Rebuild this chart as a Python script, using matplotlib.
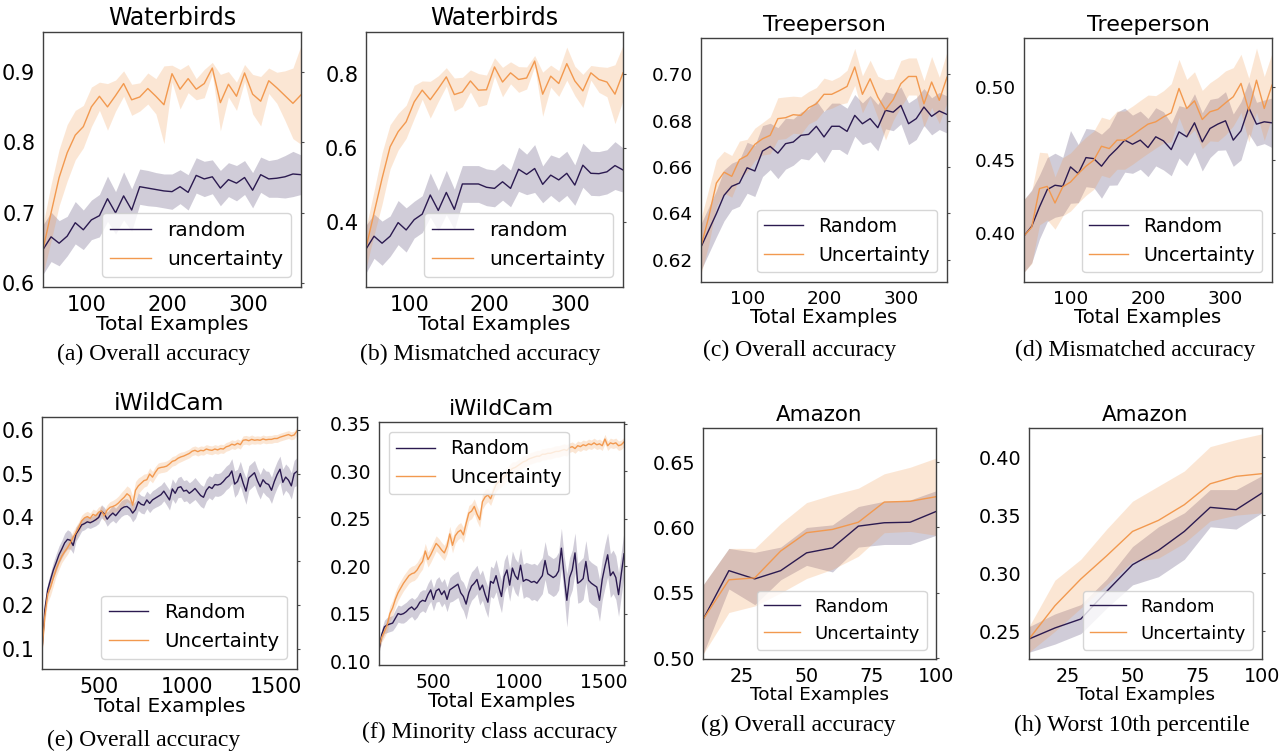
import matplotlib
matplotlib.use("Agg")
import matplotlib.pyplot as plt
import numpy as np

# ---- x grids ----
wb_x = np.arange(46, 367, 10)      # Waterbirds
tp_x = np.arange(40, 361, 10)      # Treeperson
iw_x = np.arange(180, 1621, 16)    # iWildCam
amz_x = [10, 20, 30, 40, 50, 60, 70, 80, 90, 100]

# ---- (a) Waterbirds overall ----
a_rand = [0.648, 0.666, 0.657, 0.667, 0.686, 0.676, 0.69, 0.696, 0.72, 0.70,
          0.724, 0.704, 0.737, 0.735, 0.733, 0.731, 0.730, 0.737, 0.729, 0.753,
          0.748, 0.751, 0.735, 0.747, 0.742, 0.75, 0.732, 0.754, 0.748, 0.749,
          0.751, 0.755, 0.754]
a_rand_sd = [0.035, 0.035, 0.032, 0.028, 0.03, 0.028, 0.028, 0.03, 0.032, 0.03,
             0.034, 0.03, 0.025, 0.025, 0.024, 0.024, 0.025, 0.024, 0.025, 0.025,
             0.025, 0.024, 0.025, 0.024, 0.025, 0.024, 0.025, 0.025, 0.026, 0.027,
             0.03, 0.032, 0.028]
a_unc = [0.648, 0.70, 0.75, 0.785, 0.81, 0.822, 0.85, 0.865, 0.85, 0.866,
         0.883, 0.86, 0.864, 0.876, 0.865, 0.853, 0.897, 0.875, 0.89, 0.875,
         0.883, 0.905, 0.856, 0.882, 0.865, 0.898, 0.868, 0.858, 0.887, 0.877,
         0.866, 0.855, 0.867]
a_unc_sd = [0.035, 0.04, 0.04, 0.04, 0.035, 0.03, 0.028, 0.02, 0.033, 0.022,
            0.018, 0.022, 0.02, 0.022, 0.025, 0.055, 0.012, 0.028, 0.02, 0.015,
            0.02, 0.008, 0.04, 0.018, 0.02, 0.012, 0.028, 0.035, 0.018, 0.022,
            0.035, 0.05, 0.07]

# ---- (b) Waterbirds mismatched ----
b_rand = [0.325, 0.36, 0.341, 0.36, 0.397, 0.377, 0.405, 0.42, 0.472, 0.43,
          0.479, 0.433, 0.502, 0.502, 0.502, 0.493, 0.49, 0.508, 0.49, 0.542,
          0.528, 0.544, 0.501, 0.526, 0.513, 0.531, 0.499, 0.553, 0.531, 0.530,
          0.535, 0.552, 0.54]
b_rand_sd = [0.065, 0.06, 0.06, 0.055, 0.06, 0.06, 0.05, 0.05, 0.06, 0.055,
             0.06, 0.055, 0.05, 0.05, 0.05, 0.05, 0.05, 0.05, 0.05, 0.06,
             0.055, 0.065, 0.05, 0.055, 0.06, 0.06, 0.055, 0.06, 0.06, 0.06,
             0.06, 0.065, 0.06]
b_unc = [0.328, 0.423, 0.517, 0.603, 0.644, 0.671, 0.725, 0.757, 0.731, 0.761,
         0.793, 0.745, 0.752, 0.782, 0.757, 0.758, 0.82, 0.779, 0.804, 0.786,
         0.79, 0.836, 0.746, 0.795, 0.775, 0.829, 0.782, 0.755, 0.804, 0.786,
         0.779, 0.746, 0.804]
b_unc_sd = [0.055, 0.06, 0.07, 0.06, 0.05, 0.045, 0.045, 0.025, 0.05, 0.035,
            0.025, 0.045, 0.04, 0.03, 0.045, 0.04, 0.025, 0.04, 0.03, 0.035,
            0.03, 0.015, 0.06, 0.03, 0.035, 0.045, 0.04, 0.045, 0.02, 0.035,
            0.04, 0.08, 0.075]

# ---- (c) Treeperson overall ----
c_rand = [0.6255, 0.6327, 0.6399, 0.6478, 0.6517, 0.6531, 0.6597, 0.6583, 0.6669, 0.6689,
          0.666, 0.6701, 0.6708, 0.6737, 0.6741, 0.6776, 0.673, 0.6776, 0.6776, 0.6754,
          0.6823, 0.6787, 0.6809, 0.677, 0.6845, 0.6837, 0.6866, 0.6787, 0.6809, 0.6859,
          0.6819, 0.6842, 0.6827]
c_rand_sd = [0.01, 0.01, 0.01, 0.011, 0.01, 0.01, 0.011, 0.011, 0.011, 0.01,
             0.011, 0.011, 0.01, 0.01, 0.011, 0.011, 0.011, 0.01, 0.01, 0.01,
             0.009, 0.009, 0.01, 0.01, 0.008, 0.008, 0.008, 0.009, 0.009, 0.008,
             0.008, 0.008, 0.008]
c_unc = [0.6258, 0.6384, 0.6531, 0.6578, 0.656, 0.6632, 0.665, 0.6698, 0.6722, 0.6737,
         0.6809, 0.6813, 0.6826, 0.6823, 0.6856, 0.6873, 0.6914, 0.6914, 0.693, 0.6948,
         0.7032, 0.6914, 0.6981, 0.6902, 0.6847, 0.6891, 0.696, 0.6991, 0.6991, 0.6873,
         0.6967, 0.6888, 0.6988]
c_unc_sd = [0.012, 0.012, 0.01, 0.009, 0.009, 0.008, 0.007, 0.007, 0.007, 0.008,
            0.009, 0.009, 0.008, 0.008, 0.007, 0.007, 0.007, 0.006, 0.006, 0.007,
            0.008, 0.008, 0.008, 0.009, 0.013, 0.009, 0.01, 0.008, 0.008, 0.01,
            0.011, 0.01, 0.011]

# ---- (d) Treeperson mismatched ----
d_rand = [0.398, 0.4046, 0.4179, 0.4298, 0.4328, 0.432, 0.4454, 0.4408, 0.4518, 0.4511,
          0.4459, 0.4528, 0.458, 0.4638, 0.461, 0.4638, 0.4587, 0.4661, 0.4633, 0.4573,
          0.4695, 0.4661, 0.4757, 0.4626, 0.4718, 0.4748, 0.4771, 0.4638, 0.4702, 0.4862,
          0.4748, 0.4764, 0.4757]
d_rand_sd = [0.025, 0.025, 0.022, 0.022, 0.022, 0.02, 0.025, 0.02, 0.02, 0.02,
             0.022, 0.02, 0.025, 0.022, 0.02, 0.02, 0.02, 0.02, 0.02, 0.018,
             0.018, 0.02, 0.02, 0.02, 0.02, 0.018, 0.02, 0.018, 0.02, 0.018,
             0.015, 0.015, 0.017]
d_unc = [0.398, 0.404, 0.4305, 0.432, 0.4206, 0.4317, 0.435, 0.4408, 0.4459, 0.45,
         0.4596, 0.458, 0.4638, 0.4638, 0.4672, 0.4711, 0.4748, 0.4764, 0.4798, 0.4826,
         0.4993, 0.4856, 0.4908, 0.478, 0.4833, 0.4849, 0.4894, 0.4936, 0.5028, 0.4844,
         0.505, 0.4856, 0.5016]
d_unc_sd = [0.025, 0.025, 0.025, 0.023, 0.018, 0.02, 0.02, 0.02, 0.02, 0.02,
            0.02, 0.02, 0.02, 0.02, 0.02, 0.02, 0.02, 0.018, 0.018, 0.02,
            0.02, 0.02, 0.02, 0.02, 0.02, 0.022, 0.022, 0.02, 0.02, 0.022,
            0.022, 0.022, 0.022]

# ---- (e) iWildCam overall ----
e_rand = [0.098, 0.190, 0.235, 0.258, 0.280, 0.297, 0.315, 0.328, 0.342, 0.350,
          0.348, 0.336, 0.362, 0.372, 0.383, 0.386, 0.390, 0.388, 0.391, 0.395,
          0.400, 0.414, 0.408, 0.396, 0.404, 0.410, 0.404, 0.412, 0.420, 0.424,
          0.425, 0.420, 0.410, 0.418, 0.436, 0.430, 0.428, 0.440, 0.432, 0.440,
          0.444, 0.448, 0.452, 0.460, 0.450, 0.440, 0.465, 0.455, 0.468, 0.470,
          0.460, 0.462, 0.455, 0.460, 0.466, 0.458, 0.450, 0.446, 0.462, 0.470,
          0.466, 0.475, 0.474, 0.476, 0.482, 0.490, 0.495, 0.506, 0.476, 0.482,
          0.500, 0.478, 0.460, 0.490, 0.496, 0.502, 0.484, 0.470, 0.486, 0.478,
          0.475, 0.462, 0.482, 0.498, 0.510, 0.480, 0.492, 0.485, 0.472, 0.500,
          0.505]
e_rand_sd = [0.005, 0.012, 0.015, 0.016, 0.018, 0.020, 0.020, 0.020, 0.022, 0.022,
             0.020, 0.018, 0.016, 0.015, 0.014, 0.014, 0.013, 0.013, 0.013, 0.014,
             0.014, 0.015, 0.015, 0.016, 0.016, 0.017, 0.017, 0.017, 0.018, 0.018,
             0.018, 0.018, 0.020, 0.020, 0.020, 0.020, 0.020, 0.020, 0.021, 0.021,
             0.021, 0.022, 0.022, 0.022, 0.022, 0.023, 0.023, 0.023, 0.023, 0.024,
             0.024, 0.024, 0.024, 0.024, 0.025, 0.025, 0.025, 0.025, 0.025, 0.025,
             0.026, 0.026, 0.026, 0.026, 0.027, 0.027, 0.027, 0.028, 0.030, 0.028,
             0.028, 0.028, 0.030, 0.028, 0.028, 0.028, 0.028, 0.028, 0.028, 0.028,
             0.030, 0.030, 0.030, 0.030, 0.030, 0.030, 0.030, 0.030, 0.030, 0.030,
             0.032]
e_unc = [0.095, 0.175, 0.225, 0.240, 0.262, 0.282, 0.298, 0.312, 0.322, 0.331,
         0.342, 0.355, 0.366, 0.378, 0.392, 0.399, 0.402, 0.398, 0.407, 0.404,
         0.412, 0.415, 0.404, 0.417, 0.423, 0.425, 0.428, 0.433, 0.440, 0.446,
         0.454, 0.449, 0.428, 0.462, 0.472, 0.478, 0.484, 0.486, 0.499, 0.492,
         0.503, 0.512, 0.514, 0.515, 0.517, 0.522, 0.528, 0.530, 0.535, 0.538,
         0.540, 0.543, 0.546, 0.551, 0.553, 0.550, 0.553, 0.552, 0.556, 0.554,
         0.553, 0.556, 0.554, 0.557, 0.556, 0.561, 0.563, 0.567, 0.565, 0.569,
         0.566, 0.576, 0.577, 0.575, 0.578, 0.576, 0.577, 0.576, 0.579, 0.577,
         0.578, 0.578, 0.580, 0.580, 0.583, 0.585, 0.587, 0.589, 0.586, 0.588,
         0.597]
e_unc_sd = [0.005, 0.015, 0.018, 0.018, 0.018, 0.016, 0.016, 0.015, 0.015, 0.015,
            0.014, 0.014, 0.014, 0.013, 0.013, 0.012, 0.012, 0.012, 0.012, 0.012,
            0.012, 0.012, 0.012, 0.012, 0.013, 0.014, 0.015, 0.016, 0.017, 0.018,
            0.018, 0.018, 0.020, 0.020, 0.018, 0.016, 0.015, 0.014, 0.014, 0.013,
            0.013, 0.012, 0.012, 0.012, 0.012, 0.011, 0.011, 0.011, 0.011, 0.011,
            0.010, 0.010, 0.010, 0.010, 0.010, 0.010, 0.010, 0.010, 0.010, 0.010,
            0.010, 0.010, 0.010, 0.010, 0.010, 0.010, 0.010, 0.010, 0.010, 0.010,
            0.010, 0.010, 0.010, 0.010, 0.010, 0.009, 0.009, 0.009, 0.009, 0.009,
            0.009, 0.009, 0.009, 0.009, 0.009, 0.009, 0.009, 0.009, 0.009, 0.009,
            0.009]

# ---- (f) iWildCam minority class ----
f_rand = [0.112, 0.128, 0.136, 0.138, 0.139, 0.140, 0.145, 0.150, 0.149, 0.150,
          0.152, 0.155, 0.157, 0.154, 0.157, 0.162, 0.164, 0.163, 0.170, 0.175,
          0.165, 0.174, 0.176, 0.170, 0.174, 0.165, 0.175, 0.177, 0.179, 0.181,
          0.172, 0.168, 0.160, 0.172, 0.179, 0.182, 0.186, 0.175, 0.180, 0.170,
          0.162, 0.184, 0.182, 0.190, 0.178, 0.168, 0.189, 0.196, 0.180, 0.198,
          0.190, 0.186, 0.201, 0.184, 0.186, 0.185, 0.183, 0.184, 0.182, 0.186,
          0.190, 0.206, 0.192, 0.190, 0.188, 0.190, 0.195, 0.219, 0.190, 0.164,
          0.188, 0.196, 0.214, 0.182, 0.184, 0.187, 0.205, 0.185, 0.182, 0.180,
          0.178, 0.164, 0.186, 0.200, 0.212, 0.190, 0.194, 0.188, 0.170, 0.192,
          0.213]
f_rand_sd = [0.004, 0.006, 0.007, 0.008, 0.008, 0.008, 0.009, 0.009, 0.009, 0.010,
             0.010, 0.010, 0.010, 0.011, 0.011, 0.011, 0.011, 0.012, 0.012, 0.012,
             0.012, 0.012, 0.013, 0.013, 0.013, 0.013, 0.013, 0.014, 0.014, 0.014,
             0.014, 0.015, 0.016, 0.015, 0.015, 0.015, 0.015, 0.016, 0.016, 0.016,
             0.016, 0.016, 0.016, 0.017, 0.017, 0.017, 0.017, 0.017, 0.017, 0.018,
             0.018, 0.018, 0.018, 0.018, 0.018, 0.018, 0.019, 0.019, 0.019, 0.019,
             0.019, 0.020, 0.020, 0.020, 0.020, 0.020, 0.020, 0.021, 0.021, 0.028,
             0.021, 0.021, 0.021, 0.021, 0.022, 0.022, 0.022, 0.022, 0.022, 0.022,
             0.022, 0.022, 0.022, 0.023, 0.023, 0.023, 0.023, 0.023, 0.023, 0.023,
             0.024]
f_unc = [0.115, 0.125, 0.131, 0.138, 0.150, 0.156, 0.165, 0.172, 0.177, 0.182,
         0.186, 0.190, 0.192, 0.193, 0.196, 0.201, 0.205, 0.216, 0.207, 0.212,
         0.218, 0.224, 0.221, 0.217, 0.214, 0.221, 0.234, 0.222, 0.232, 0.236,
         0.238, 0.233, 0.245, 0.256, 0.258, 0.263, 0.255, 0.249, 0.268, 0.273,
         0.275, 0.271, 0.279, 0.286, 0.289, 0.291, 0.294, 0.297, 0.300, 0.303,
         0.304, 0.306, 0.308, 0.310, 0.311, 0.313, 0.314, 0.315, 0.316, 0.316,
         0.318, 0.318, 0.319, 0.319, 0.320, 0.321, 0.321, 0.322, 0.323, 0.322,
         0.325, 0.326, 0.324, 0.327, 0.326, 0.328, 0.327, 0.329, 0.328, 0.330,
         0.328, 0.329, 0.327, 0.334, 0.327, 0.330, 0.329, 0.330, 0.327, 0.328,
         0.331]
f_unc_sd = [0.004, 0.005, 0.006, 0.007, 0.008, 0.008, 0.008, 0.008, 0.008, 0.008,
            0.008, 0.008, 0.008, 0.008, 0.008, 0.008, 0.008, 0.008, 0.008, 0.008,
            0.008, 0.008, 0.008, 0.008, 0.008, 0.008, 0.008, 0.008, 0.008, 0.008,
            0.008, 0.008, 0.008, 0.008, 0.008, 0.008, 0.008, 0.008, 0.008, 0.008,
            0.007, 0.007, 0.007, 0.007, 0.007, 0.007, 0.007, 0.007, 0.007, 0.007,
            0.006, 0.006, 0.006, 0.006, 0.006, 0.006, 0.006, 0.006, 0.006, 0.006,
            0.006, 0.006, 0.006, 0.006, 0.006, 0.006, 0.006, 0.006, 0.006, 0.006,
            0.005, 0.005, 0.005, 0.005, 0.005, 0.005, 0.005, 0.005, 0.005, 0.005,
            0.005, 0.005, 0.005, 0.005, 0.005, 0.005, 0.005, 0.005, 0.005, 0.005,
            0.005]

# ---- (g) Amazon overall ----
g_rand = [0.5296, 0.567, 0.5607, 0.567, 0.5806, 0.5844, 0.601, 0.6036, 0.604, 0.6122]
g_rand_lo = [0.503, 0.553, 0.541, 0.560, 0.571, 0.566, 0.585, 0.587, 0.587, 0.594]
g_rand_hi = [0.556, 0.584, 0.581, 0.585, 0.600, 0.602, 0.616, 0.620, 0.621, 0.628]
g_unc = [0.5296, 0.560, 0.5615, 0.582, 0.596, 0.5985, 0.604, 0.6194, 0.620, 0.6235]
g_unc_lo = [0.503, 0.535, 0.540, 0.550, 0.561, 0.568, 0.578, 0.596, 0.597, 0.594]
g_unc_hi = [0.556, 0.584, 0.584, 0.603, 0.619, 0.625, 0.630, 0.641, 0.646, 0.653]

# ---- (h) Amazon worst 10th percentile ----
h_rand = [0.2434, 0.2529, 0.2606, 0.2844, 0.3074, 0.3197, 0.336, 0.3567, 0.3547, 0.369]
h_rand_lo = [0.232, 0.239, 0.248, 0.270, 0.290, 0.297, 0.312, 0.340, 0.338, 0.352]
h_rand_hi = [0.254, 0.265, 0.273, 0.295, 0.323, 0.340, 0.352, 0.372, 0.372, 0.384]
h_unc = [0.2434, 0.272, 0.295, 0.315, 0.336, 0.3455, 0.359, 0.377, 0.3834, 0.3857]
h_unc_lo = [0.232, 0.250, 0.270, 0.290, 0.310, 0.313, 0.326, 0.345, 0.350, 0.352]
h_unc_hi = [0.254, 0.294, 0.312, 0.338, 0.362, 0.375, 0.388, 0.409, 0.415, 0.420]

RAND_C = '#2b1a50'
UNC_C = '#f2994f'
W, H = 1288, 751


def lohi(mean, sd):
    m = np.asarray(mean)
    s = np.asarray(sd)
    return m - s, m + s


def panel(box, x, rand, rlo, rhi, unc, ulo, uhi, title, ylim, yticks, xticks,
          labels, loc, tsize, fsize, lsize, legsize, caption, cap_xy):
    l, t, r, b = box
    ax = fig.add_axes([l / W, 1 - b / H, (r - l) / W, (b - t) / H])
    ax.fill_between(x, rlo, rhi, color=RAND_C, alpha=0.22, lw=0)
    ax.fill_between(x, ulo, uhi, color=UNC_C, alpha=0.24, lw=0)
    ax.plot(x, rand, color=RAND_C, lw=1.0, label=labels[0])
    ax.plot(x, unc, color=UNC_C, lw=1.0, label=labels[1])
    ax.set_xlim(x[0], x[-1])
    ax.set_ylim(*ylim)
    ax.set_yticks(yticks)
    ax.set_xticks(xticks)
    ax.tick_params(left=False, bottom=False, right=True, length=2.5,
                   labelsize=tsize, pad=3, color='0.3')
    for sp in ax.spines.values():
        sp.set_color('0.25')
        sp.set_linewidth(1.0)
    ax.set_title(title, fontsize=fsize, pad=5)
    ax.set_xlabel('Total Examples', fontsize=lsize, labelpad=0)
    ax.legend(loc=loc, fontsize=legsize)
    fig.text(cap_xy[0] / W, 1 - cap_xy[1] / H, caption, ha='center', va='center',
             family='Liberation Serif', fontsize=17)
    return ax


fig = plt.figure(figsize=(W / 100, H / 100), dpi=100)

lo_l = ['random', 'uncertainty']
up_l = ['Random', 'Uncertainty']

panel((43, 32, 301, 287), wb_x, a_rand, *lohi(a_rand, a_rand_sd), a_unc, *lohi(a_unc, a_unc_sd),
      'Waterbirds', (0.595, 0.956), [0.6, 0.7, 0.8, 0.9], [100, 200, 300], lo_l, 'lower right',
      15, 17, 14.6, 14.5, '(a) Overall accuracy', (154, 354))
panel((366, 32, 623, 287), wb_x, b_rand, *lohi(b_rand, b_rand_sd), b_unc, *lohi(b_unc, b_unc_sd),
      'Waterbirds', (0.222, 0.915), [0.4, 0.6, 0.8], [100, 200, 300], lo_l, 'lower right',
      15, 17, 14.6, 14.5, '(b) Mismatched accuracy', (480, 354))
panel((701, 38, 947, 282), tp_x, c_rand, *lohi(c_rand, c_rand_sd), c_unc, *lohi(c_unc, c_unc_sd),
      'Treeperson', (0.6104, 0.7157), [0.62, 0.64, 0.66, 0.68, 0.70], [100, 200, 300], up_l,
      'lower right', 13.3, 16, 14.1, 13.8, '(c) Overall accuracy', (800, 350))
panel((1024, 38, 1272, 282), tp_x, d_rand, *lohi(d_rand, d_rand_sd), d_unc, *lohi(d_unc, d_unc_sd),
      'Treeperson', (0.3663, 0.534), [0.40, 0.45, 0.50], [100, 200, 300], up_l,
      'lower right', 13.3, 16, 14.1, 13.8, '(d) Mismatched accuracy', (1135, 350))
panel((42, 417, 297, 669), iw_x, e_rand, *lohi(e_rand, e_rand_sd), e_unc, *lohi(e_unc, e_unc_sd),
      'iWildCam', (0.0545, 0.629), [0.1, 0.2, 0.3, 0.4, 0.5, 0.6], [500, 1000, 1500], up_l,
      'lower right', 14.8, 16.8, 14.5, 14.2, '(e) Overall accuracy', (144, 740))
panel((379, 422, 624, 665), iw_x, f_rand, *lohi(f_rand, f_rand_sd), f_unc, *lohi(f_unc, f_unc_sd),
      'iWildCam', (0.0958, 0.352), [0.10, 0.15, 0.20, 0.25, 0.30, 0.35], [500, 1000, 1500], up_l,
      'upper left', 13.5, 16, 14.1, 13.8, '(f) Minority class accuracy', (490, 732))
panel((703, 428, 936, 659), amz_x, g_rand, g_rand_lo, g_rand_hi, g_unc, g_unc_lo, g_unc_hi,
      'Amazon', (0.4995, 0.676), [0.50, 0.55, 0.60, 0.65], [25, 50, 75, 100], up_l,
      'lower right', 13.8, 15.4, 13.3, 13, '(g) Overall accuracy', (798, 725))
panel((1029, 428, 1262, 659), amz_x, h_rand, h_rand_lo, h_rand_hi, h_unc, h_unc_lo, h_unc_hi,
      'Amazon', (0.2262, 0.425), [0.25, 0.30, 0.35, 0.40], [25, 50, 75, 100], up_l,
      'lower right', 13.8, 15.4, 13.3, 13, '(h) Worst 10th percentile', (1132, 725))

fig.savefig('out.png', dpi=100)
